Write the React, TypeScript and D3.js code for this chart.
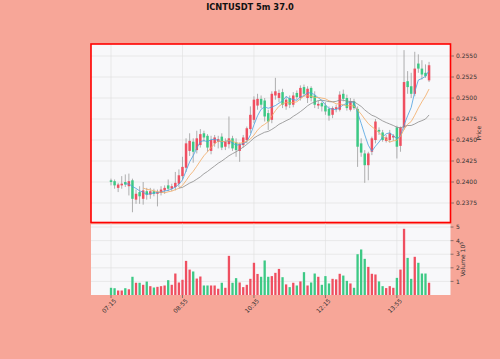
import React from 'react';
import * as d3 from 'd3';

// 5m candles, ICNTUSDT, starting 07:15
const startTime = '07:15';
const intervalMin = 5;

const opens = [
  0.2402, 0.2401, 0.2393, 0.2396, 0.2400, 0.2395, 0.2402, 0.2379, 0.2388, 0.2380,
  0.2389, 0.2385, 0.2389, 0.2386, 0.2387, 0.2390, 0.2396, 0.2392, 0.2394, 0.2398,
  0.2407, 0.2417, 0.2437, 0.2448, 0.2438, 0.2444, 0.2458, 0.2455, 0.2437, 0.2446,
  0.2448, 0.2454, 0.2442, 0.2445, 0.2452, 0.2447, 0.2437, 0.2444, 0.2450, 0.2463,
  0.2474, 0.2491, 0.2499, 0.2497, 0.2482, 0.2474, 0.2503, 0.2500, 0.2507, 0.2490,
  0.2500, 0.2492, 0.2506, 0.2500, 0.2513, 0.2500, 0.2512, 0.2503, 0.2491, 0.2494,
  0.2491, 0.2487, 0.2480, 0.2487, 0.2486, 0.2505, 0.2500, 0.2486, 0.2496, 0.2487,
  0.2446, 0.2434, 0.2420, 0.2436, 0.2450, 0.2462, 0.2459, 0.2449, 0.2450, 0.2453,
  0.2465, 0.2443, 0.2465, 0.2520, 0.2514, 0.2505, 0.2541, 0.2535, 0.2530, 0.2521,
];
const highs = [
  0.2404, 0.2403, 0.2399, 0.2407, 0.2409, 0.2410, 0.2404, 0.2391, 0.2395, 0.2400,
  0.2393, 0.2393, 0.2392, 0.2391, 0.2395, 0.2396, 0.2403, 0.2398, 0.2412, 0.2415,
  0.2430, 0.2452, 0.2458, 0.2452, 0.2461, 0.2463, 0.2461, 0.2457, 0.2455, 0.2456,
  0.2455, 0.2458, 0.2452, 0.2478, 0.2455, 0.2452, 0.2447, 0.2456, 0.2466, 0.2490,
  0.2502, 0.2505, 0.2503, 0.2500, 0.2486, 0.2508, 0.2524, 0.2510, 0.2511, 0.2502,
  0.2503, 0.2507, 0.2509, 0.2515, 0.2516, 0.2514, 0.2514, 0.2508, 0.2497, 0.2496,
  0.2495, 0.2490, 0.2490, 0.2492, 0.2508, 0.2510, 0.2504, 0.2500, 0.2499, 0.2490,
  0.2452, 0.2438, 0.2436, 0.2454, 0.2475, 0.2465, 0.2462, 0.2456, 0.2462, 0.2457,
  0.2467, 0.2466, 0.2557, 0.2532, 0.2530, 0.2555, 0.2552, 0.2545, 0.2540, 0.2543,
];
const lows = [
  0.2396, 0.2392, 0.2388, 0.2392, 0.2394, 0.2384, 0.2364, 0.2374, 0.2374, 0.2373,
  0.2379, 0.2380, 0.2383, 0.2371, 0.2384, 0.2386, 0.2389, 0.2389, 0.2390, 0.2394,
  0.2403, 0.2412, 0.2431, 0.2423, 0.2434, 0.2441, 0.2448, 0.2436, 0.2433, 0.2442,
  0.2440, 0.2438, 0.2438, 0.2440, 0.2437, 0.2430, 0.2424, 0.2441, 0.2446, 0.2458,
  0.2470, 0.2486, 0.2488, 0.2472, 0.2462, 0.2470, 0.2498, 0.2495, 0.2488, 0.2486,
  0.2488, 0.2489, 0.2498, 0.2497, 0.2502, 0.2494, 0.2496, 0.2488, 0.2487, 0.2484,
  0.2480, 0.2473, 0.2476, 0.2483, 0.2484, 0.2496, 0.2485, 0.2484, 0.2486, 0.2418,
  0.2430, 0.2399, 0.2402, 0.2432, 0.2446, 0.2456, 0.2448, 0.2447, 0.2447, 0.2449,
  0.2428, 0.2436, 0.2462, 0.2505, 0.2500, 0.2502, 0.2530, 0.2522, 0.2524, 0.2519,
];
const closes = [
  0.2400, 0.2396, 0.2397, 0.2398, 0.2397, 0.2401, 0.2380, 0.2386, 0.2383, 0.2390,
  0.2385, 0.2389, 0.2386, 0.2388, 0.2391, 0.2393, 0.2392, 0.2395, 0.2399, 0.2408,
  0.2418, 0.2446, 0.2449, 0.2436, 0.2452, 0.2457, 0.2453, 0.2441, 0.2450, 0.2453,
  0.2451, 0.2441, 0.2448, 0.2452, 0.2440, 0.2438, 0.2445, 0.2453, 0.2464, 0.2480,
  0.2498, 0.2499, 0.2492, 0.2478, 0.2472, 0.2505, 0.2508, 0.2506, 0.2492, 0.2498,
  0.2492, 0.2503, 0.2501, 0.2512, 0.2505, 0.2511, 0.2500, 0.2492, 0.2493, 0.2490,
  0.2484, 0.2479, 0.2488, 0.2489, 0.2504, 0.2499, 0.2488, 0.2496, 0.2488, 0.2442,
  0.2435, 0.2420, 0.2434, 0.2452, 0.2472, 0.2460, 0.2450, 0.2453, 0.2458, 0.2455,
  0.2442, 0.2465, 0.2519, 0.2513, 0.2505, 0.2535, 0.2535, 0.2528, 0.2526, 0.2539,
];
const volumes = [
  53000, 50000, 33000, 33000, 50000, 42000, 134000, 90000, 90000, 75000,
  99000, 65000, 55000, 60000, 65000, 70000, 109000, 75000, 158000, 92000,
  112000, 251000, 187000, 173000, 121000, 136000, 70000, 70000, 70000, 70000,
  46000, 90000, 53000, 288000, 90000, 124000, 92000, 58000, 75000, 119000,
  237000, 155000, 134000, 254000, 134000, 139000, 163000, 192000, 131000, 78000,
  58000, 90000, 70000, 100000, 168000, 70000, 92000, 158000, 134000, 75000,
  139000, 85000, 119000, 115000, 156000, 143000, 104000, 85000, 53000, 300000,
  335000, 266000, 207000, 156000, 151000, 100000, 65000, 51000, 65000, 53000,
  126000, 187000, 487000, 273000, 119000, 281000, 237000, 158000, 158000, 90000,
];

const tickLabels = ['07:15', '08:55', '10:35', '12:15', '13:55'];
const priceTicks = [0.2375, 0.24, 0.2425, 0.245, 0.2475, 0.25, 0.2525, 0.255];
const volTicks = [1, 2, 3, 4, 5];
const mavPeriods = [5, 10, 20];
const mavColors = ['#4a9fe0', '#f2aa62', '#8c8c8c'];

const upColor = '#ef4f60';
const downColor = '#3dc985';

function fmtTime(i: number) {
  const [h, m] = startTime.split(':').map(Number);
  const t = h * 60 + m + i * intervalMin;
  return d3.format('02d')(Math.floor(t / 60)) + ':' + d3.format('02d')(t % 60);
}

function sma(values: number[], n: number) {
  const out: [number, number][] = [];
  for (let i = n - 1; i < values.length; i++) {
    out.push([i, d3.mean(values.slice(i - n + 1, i + 1)) as number]);
  }
  return out;
}

export default function App() {
  const times = closes.map((_, i) => fmtTime(i));
  const left = 91, right = 450.5;
  const pTop = 44, pBot = 222.5;
  const vTop = 223.5, vBot = 295;

  const x = d3.scaleLinear().domain([-5.6, 95]).range([left, right]);
  const y = d3.scaleLinear().domain([0.235179, 0.256429]).range([pBot, pTop]);
  const yv = d3.scaleLinear().domain([0, 526000]).range([vBot, vTop]);
  const bw = 2.5;
  const vw = 2.3;

  const maLine = d3.line<[number, number]>()
    .x(d => x(d[0]))
    .y(d => y(d[1]));

  const tickIdx = tickLabels.map(l => times.indexOf(l));
  const font = 'DejaVu Sans, sans-serif';

  return (
    <svg width={500} height={359} style={{position: 'absolute', left: 0, top: 0}} fontFamily={font}>
      <rect x={0} y={0} width={500} height={359} fill="#f7a698" />
      <text x={250} y={10} textAnchor="middle" fontSize={8.3} fontWeight="bold" fill="#111">ICNTUSDT 5m 37.0</text>

      {/* price panel */}
      <rect x={left} y={pTop} width={right - left} height={pBot - pTop} fill="#f8f8fa" />
      {priceTicks.map(t => (
        <line key={'pg' + t} x1={left} x2={right} y1={y(t)} y2={y(t)} stroke="#dedede" strokeWidth={0.6} />
      ))}
      {tickIdx.map(i => (
        <line key={'xg' + i} x1={x(i)} x2={x(i)} y1={pTop} y2={pBot} stroke="#dedede" strokeWidth={0.6} />
      ))}
      {closes.map((c, i) => (
        <line key={'w' + i} x1={x(i)} x2={x(i)} y1={y(highs[i])} y2={y(lows[i])} stroke="#8f8f8f" strokeWidth={0.7} />
      ))}
      {closes.map((c, i) => {
        const up = c >= opens[i];
        const top = y(Math.max(c, opens[i]));
        const h = Math.max(0.8, Math.abs(y(c) - y(opens[i])));
        return <rect key={'b' + i} x={x(i) - bw / 2} y={top} width={bw} height={h} fill={up ? upColor : downColor} />;
      })}
      {mavPeriods.map((p, k) => (
        <path key={'ma' + p} d={maLine(sma(closes, p)) || ''} fill="none" stroke={mavColors[k]} strokeWidth={0.8} />
      ))}
      <rect x={left} y={pTop} width={right - left} height={pBot - pTop} fill="none" stroke="#ff0000" strokeWidth={1.6} />
      {priceTicks.map(t => (
        <g key={'pt' + t}>
          <line x1={right + 0.8} x2={right + 3.5} y1={y(t)} y2={y(t)} stroke="#444" strokeWidth={0.6} />
          <text x={right + 5.5} y={y(t)} dy="0.35em" fontSize={6} fill="#333">{d3.format('.4f')(t)}</text>
        </g>
      ))}
      <text transform={`translate(481,${(pTop + pBot) / 2}) rotate(-90)`} textAnchor="middle" fontSize={6} fill="#333">Price</text>

      {/* volume panel */}
      <rect x={left} y={vTop + 0.8} width={right - left} height={vBot - vTop - 0.8} fill="#f8f8fa" />
      {volTicks.map(t => (
        <line key={'vg' + t} x1={left} x2={right} y1={yv(t * 1e5)} y2={yv(t * 1e5)} stroke="#dedede" strokeWidth={0.6} />
      ))}
      {tickIdx.map(i => (
        <line key={'xv' + i} x1={x(i)} x2={x(i)} y1={vTop} y2={vBot} stroke="#dedede" strokeWidth={0.6} />
      ))}
      {volumes.map((v, i) => (
        <rect key={'v' + i} x={x(i) - vw / 2} y={yv(v)} width={vw} height={vBot - yv(v)}
          fill={closes[i] >= opens[i] ? upColor : downColor} />
      ))}
      {volTicks.map(t => (
        <g key={'vt' + t}>
          <line x1={right} x2={right + 3} y1={yv(t * 1e5)} y2={yv(t * 1e5)} stroke="#444" strokeWidth={0.6} />
          <text x={right + 5.5} y={yv(t * 1e5)} dy="0.35em" fontSize={6} fill="#333">{t}</text>
        </g>
      ))}
      <text transform={`translate(465,${(vTop + vBot) / 2}) rotate(-90)`} textAnchor="middle" fontSize={6} fill="#333">
        Volume  10<tspan dy="-2" fontSize={4.5}>5</tspan>
      </text>

      {/* x axis */}
      {tickIdx.map((i, k) => (
        <g key={'xt' + i}>
          <line x1={x(i)} x2={x(i)} y1={vBot} y2={vBot + 3} stroke="#444" strokeWidth={0.6} />
          <text transform={`translate(${x(i) - 2},${vBot + 11}) rotate(-45)`} textAnchor="middle" dy="0.35em" fontSize={6} fill="#333">{tickLabels[k]}</text>
        </g>
      ))}
    </svg>
  );
}
